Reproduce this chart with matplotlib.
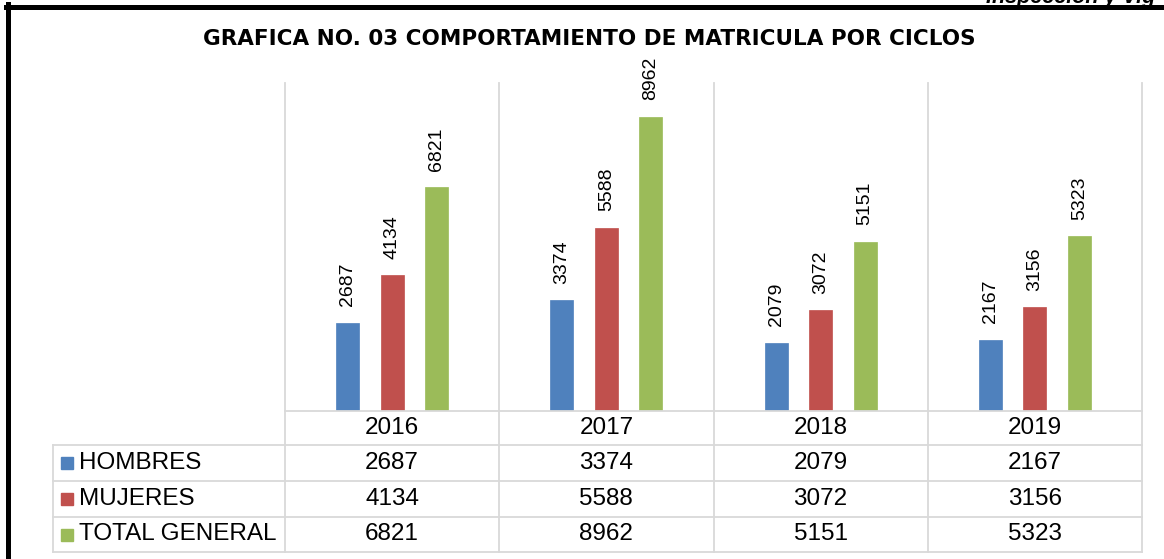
import matplotlib
matplotlib.use("Agg")
import matplotlib.pyplot as plt
from matplotlib.transforms import blended_transform_factory
from matplotlib.patches import Rectangle
from matplotlib.lines import Line2D

plt.rcParams['font.family'] = ['Liberation Sans', 'DejaVu Sans']

years = ["2016", "2017", "2018", "2019"]
series_names = ["HOMBRES", "MUJERES", "TOTAL GENERAL"]
hombres = [2687, 3374, 2079, 2167]
mujeres = [4134, 5588, 3072, 3156]
total = [6821, 8962, 5151, 5323]
colors = ["#4F81BD", "#C0504D", "#9BBB59"]
title = "GRAFICA NO. 03 COMPORTAMIENTO DE MATRICULA POR CICLOS"

W, H = 1164, 559
fig = plt.figure(figsize=(W / 100, H / 100), dpi=100)

def fy(py):
    return 1 - py / H

def fx(px):
    return px / W

ax_left, ax_right, ax_top, ax_bot = 285, 1142, 83, 411
ax = fig.add_axes([fx(ax_left), fy(ax_bot), fx(ax_right) - fx(ax_left), fy(ax_top) - fy(ax_bot)])
ax.set_xlim(-0.5, len(years) - 0.5)
ax.set_ylim(0, 10000)
for s in ax.spines.values():
    s.set_visible(False)
ax.set_xticks([])
ax.set_yticks([])

grid_c = "#d9d9d9"
series = [hombres, mujeres, total]
offsets = [-0.208, 0.0, 0.208]
bw = 0.107
for vals, off, col in zip(series, offsets, colors):
    xs = [i + off for i in range(len(years))]
    ax.bar(xs, vals, width=bw, color=col, edgecolor=col, linewidth=0.5, zorder=3)
    for x, v in zip(xs, vals):
        ax.annotate(str(v), (x, v), xytext=(0, 12), textcoords="offset points",
                    rotation=90, ha="center", va="bottom", fontsize=14,
                    annotation_clip=False, zorder=4)

bt = blended_transform_factory(ax.transData, fig.transFigure)
rows_px = [411, 445, 481, 517, 552]
lw = 1.3
for b in [i - 0.5 for i in range(len(years) + 1)]:
    fig.add_artist(Line2D([b, b], [fy(ax_top), fy(rows_px[-1])], transform=bt,
                          color=grid_c, lw=lw, zorder=1))
fig.add_artist(Line2D([-0.5, len(years) - 0.5], [fy(rows_px[0])] * 2, transform=bt,
                      color=grid_c, lw=lw, zorder=1))
leg_left = 53
for r in rows_px[1:]:
    fig.add_artist(Line2D([fx(leg_left), fx(ax_right)], [fy(r)] * 2,
                          transform=fig.transFigure, color=grid_c, lw=lw, zorder=1))
fig.add_artist(Line2D([fx(leg_left)] * 2, [fy(rows_px[1]), fy(rows_px[-1])],
                      transform=fig.transFigure, color=grid_c, lw=lw, zorder=1))

tsize = 17.5
for i, y in enumerate(years):
    yc = (rows_px[0] + rows_px[1]) / 2
    ax.text(i, fy(yc), y, transform=bt, ha="center", va="center", fontsize=tsize, clip_on=False)

for r, (name, vals, col) in enumerate(zip(series_names, series, colors)):
    yc = (rows_px[r + 1] + rows_px[r + 2]) / 2
    fig.add_artist(Rectangle((fx(61), fy(yc + 6)), fx(12), 12 / H, transform=fig.transFigure,
                             color=col, zorder=2))
    fig.text(fx(79), fy(yc), name, ha="left", va="center", fontsize=tsize)
    for i, v in enumerate(vals):
        ax.text(i, fy(yc), str(v), transform=bt, ha="center", va="center",
                fontsize=tsize, clip_on=False)

# title
fig.text(fx(589.5), fy(45), title, ha="center", va="baseline", fontsize=15.5,
         fontweight="bold", family="DejaVu Sans")

# page border remnants
fig.add_artist(Line2D([fx(8), fx(8)], [fy(4), 0], transform=fig.transFigure,
                      color="black", lw=3.6))
fig.add_artist(Line2D([fx(6), 1], [fy(6.5), fy(6.5)], transform=fig.transFigure,
                      color="black", lw=3.6))
fig.text(fx(986), fy(3), "Inspección y Vig", ha="left", va="baseline", fontsize=15.5,
         fontweight="bold", fontstyle="italic")

fig.savefig("out.png", dpi=100)
